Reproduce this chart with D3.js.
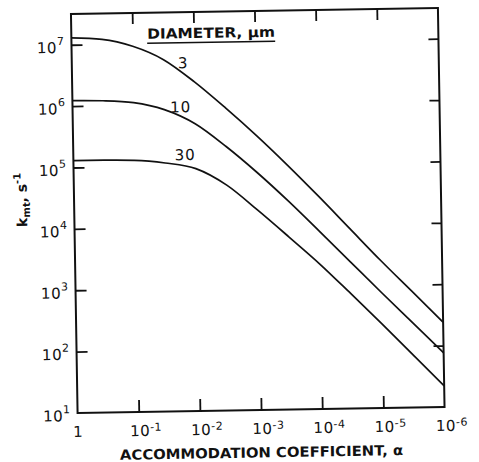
<!DOCTYPE html>
<html>
<head>
<meta charset="utf-8">
<script src="https://cdn.jsdelivr.net/npm/d3@7"></script>
<style>
  html, body { margin: 0; padding: 0; background: #fff; }
  svg { display: block; }
  text { font-family: "DejaVu Sans", sans-serif; fill: #111; }
</style>
</head>
<body>
<svg id="chart" width="479" height="462"></svg>
<script>
// Accommodation coefficient (x), half-decade steps from 1 down to 1e-6
const alpha = [1, 3.16e-1, 1e-1, 3.16e-2, 1e-2, 3.16e-3, 1e-3, 3.16e-4, 1e-4, 3.16e-5, 1e-5, 3.16e-6, 1e-6];

// Mass-transfer rate constant k_mt (s^-1) for each particle diameter
const diameters = ["3", "10", "30"];
const kD3  = [1.29e7, 1.2e7, 9.1e6, 5.4e6, 2.3e6, 8.5e5, 2.95e5, 9.5e4, 2.9e4, 8.5e3, 2.5e3, 776, 240];
const kD10 = [1.23e6, 1.2e6, 1.1e6, 8.3e5, 4.8e5, 2.0e5, 7.4e4, 2.5e4, 7.9e3, 2.45e3, 760, 240, 76];
const kD30 = [1.29e5, 1.29e5, 1.26e5, 1.12e5, 8.9e4, 4.7e4, 1.8e4, 6.5e3, 2.3e3, 740, 234, 72, 22];

// Tick positions (powers of ten)
const xTickExps = [0, -1, -2, -3, -4, -5, -6];
const yTickExps = [1, 2, 3, 4, 5, 6, 7];

const svg = d3.select("#chart");
const L = 74.25, R = 441.25, T = 11, B = 410;

// whole figure sits on a slight tilt
const root = svg.append("g")
  .attr("transform", "rotate(-0.95 257.75 210.5)");

const x = d3.scaleLog().domain([1, 1e-6]).range([L, R]);
const y = d3.scaleLog().domain([10, Math.pow(10, 7.5)]).range([B, T]);

const xTicks = xTickExps.map(e => Math.pow(10, e));
const yTicks = yTickExps.map(e => Math.pow(10, e));

function styleAxis(g) {
  g.select(".domain").remove();
  g.selectAll(".tick line").attr("stroke", "#111").attr("stroke-width", 1.8);
  g.selectAll(".tick text").remove();
}

// inward ticks on all four sides
root.append("g").attr("transform", `translate(0,${B})`)
  .call(d3.axisBottom(x).tickValues(xTicks.slice(1, -1)).tickSize(-12).tickFormat(""))
  .call(styleAxis);
root.append("g").attr("transform", `translate(0,${T})`)
  .call(d3.axisTop(x).tickValues(xTicks.slice(1, -1)).tickSize(-11).tickFormat(""))
  .call(styleAxis);
root.append("g").attr("transform", `translate(${L},0)`)
  .call(d3.axisLeft(y).tickValues(yTicks.slice(1)).tickSize(-11).tickFormat(""))
  .call(styleAxis);
root.append("g").attr("transform", `translate(${R},0)`)
  .call(d3.axisRight(y).tickValues(yTicks.slice(1)).tickSize(-10).tickFormat(""))
  .call(styleAxis);

// frame
root.append("rect")
  .attr("x", L).attr("y", T).attr("width", R - L).attr("height", B - T)
  .attr("fill", "none").attr("stroke", "#111").attr("stroke-width", 2);

// y tick labels: 10^n
yTickExps.forEach(e => {
  const t = root.append("text")
    .attr("x", L - 7).attr("y", y(Math.pow(10, e)) + 8)
    .attr("text-anchor", "end")
    .attr("font-size", 15)
    .attr("letter-spacing", 0.5);
  t.append("tspan").text("10");
  t.append("tspan").attr("font-size", 11).attr("dy", -8).text(String(e));
});

// x tick labels
xTickExps.forEach(e => {
  const px = x(Math.pow(10, e));
  if (e === 0) {
    root.append("text").attr("x", px).attr("y", B + 24)
      .attr("text-anchor", "middle").attr("font-size", 15).text("1");
  } else {
    const t = root.append("text")
      .attr("x", px - 9).attr("y", B + 24)
      .attr("font-size", 15)
      .attr("letter-spacing", 0.5);
    t.append("tspan").text("10");
    t.append("tspan").attr("font-size", 11).attr("dy", -5).text("-" + (-e));
  }
});

// curves
const series = [kD3, kD10, kD30];
const line = d3.line()
  .x(d => x(d[0]))
  .y(d => y(d[1]))
  .curve(d3.curveMonotoneX);

series.forEach(vals => {
  root.append("path")
    .datum(alpha.map((a, i) => [a, vals[i]]))
    .attr("d", line)
    .attr("fill", "none")
    .attr("stroke", "#111")
    .attr("stroke-width", 1.7);
});

// curve labels (diameter in micrometres), baseline anchored in data space
const labelAt = [
  { a: Math.pow(10, -1.82), k: Math.pow(10, 6.59) },
  { a: Math.pow(10, -1.77), k: Math.pow(10, 5.87) },
  { a: Math.pow(10, -1.83), k: Math.pow(10, 5.09) }
];
diameters.forEach((d, i) => {
  root.append("text")
    .attr("x", x(labelAt[i].a)).attr("y", y(labelAt[i].k))
    .attr("text-anchor", "middle")
    .attr("font-size", 15)
    .attr("letter-spacing", 1)
    .text(d);
});

// legend heading
root.append("text")
  .attr("x", 150).attr("y", 37)
  .attr("font-size", 14).attr("font-weight", "bold")
  .attr("textLength", 128).attr("lengthAdjust", "spacingAndGlyphs")
  .text("DIAMETER, μm");
root.append("line")
  .attr("x1", 150).attr("x2", 278).attr("y1", 41.5).attr("y2", 41.5)
  .attr("stroke", "#111").attr("stroke-width", 1.6);

// x axis title
root.append("text")
  .attr("x", 116).attr("y", 457.5)
  .attr("font-size", 14).attr("font-weight", "bold")
  .attr("textLength", 283).attr("lengthAdjust", "spacingAndGlyphs")
  .text("ACCOMMODATION COEFFICIENT, α");

// y axis title
const yt = root.append("text")
  .attr("transform", "translate(27,196) rotate(-90)")
  .attr("text-anchor", "middle")
  .attr("font-size", 14).attr("font-weight", "bold");
yt.append("tspan").text("k");
yt.append("tspan").attr("font-size", 10).attr("dy", 3).text("mt");
yt.append("tspan").attr("dy", -3).text(", s");
yt.append("tspan").attr("font-size", 10).attr("dy", -6).text("-1");
</script>
</body>
</html>
